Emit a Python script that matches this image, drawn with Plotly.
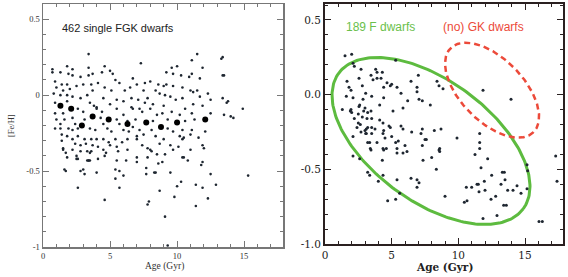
import numpy as np
import plotly.graph_objects as go

# ---------------- data ----------------
left_x = [0.7,0.7,1.8,2.2,1.3,2.2,1.9,3.4,3.4,3.4,4.4,4.6,3.7,5.0,5.2,2.8,5.4,1.0,0.9,1.4,1.8,1.5,1.3,1.8,2.0,2.5,3.0,2.2,2.8,3.3,3.7,3.6,4.1,4.6,5.1,5.7,6.1,4.5,5.5,6.0,0.9,0.8,1.8,3.5,3.8,5.0,4.0,
          7.3,11.5,11.1,11.9,9.6,10.0,9.2,9.7,11.1,10.9,10.3,11.7,6.7,7.0,7.6,8.0,8.6,9.0,9.2,9.7,10.4,11.0,11.2,11.5,12.3,6.5,7.5,8.4,8.7,9.1,9.5,6.6,7.1,7.8,9.9,10.4,11.7,12.5,7.6,8.2,9.0,11.2,11.9,7.2,6.6,
          13.4,13.4,13.4,13.7,13.8,14.9,13.5,14.0,14.2,15.3,13.3,13.5,
          0.9,1.5,2.6,3.0,4.0,4.4,5.5,6.0,1.0,1.3,1.6,2.2,2.4,3.1,4.3,4.5,5.5,5.7,6.3,0.9,1.3,1.9,2.2,2.6,3.5,3.9,4.8,5.1,6.0,6.4,1.4,1.8,2.2,2.6,3.1,3.6,4.0,4.5,4.9,5.4,5.9,6.3,2.4,2.8,3.2,3.7,4.1,5.0,5.5,1.5,2.2,2.8,3.3,3.5,4.5,4.7,5.6,6.3,1.8,2.5,3.4,3.5,4.1,5.5,1.6,2.8,3.1,5.4,5.7,
          1.4,1.5,1.7,1.7,2.6,2.6,2.5,3.0,3.3,3.4,3.6,4.0,4.6,4.6,5.4,5.7,6.0,6.2,7.0,7.0,7.7,7.7,7.8,7.9,8.3,8.6,8.9,8.7,9.1,9.5,9.8,10.0,10.3,10.5,10.8,11.4,11.4,11.8,11.9,12.0,12.3,12.5,12.9,9.3,
          6.7,7.4,8.0,8.5,8.9,9.6,10.2,10.6,11.1,12.5,6.9,8.2,9.3,10.6,11.3,6.7,7.2,8.1,9.3,9.7,10.4,11.1,11.0,12.1,7.0,7.5,8.4,9.0,10.2,10.5,10.4,11.6,7.0,7.4,8.7,9.5,10.1,11.9,7.8,8.0,8.1,8.5,9.7,9.1,11.0,7.8,10.4,11.9,8.4]
left_y = [0.17,0.15,0.19,0.17,0.15,0.13,0.14,0.27,0.18,0.13,0.15,0.19,0.14,0.16,0.14,0.12,0.10,0.05,0.09,0.07,0.07,0.03,0.00,0.00,0.04,0.06,0.07,-0.01,-0.02,0.00,0.03,0.07,0.08,0.05,0.03,0.08,0.03,-0.02,-0.03,-0.04,-0.05,0.01,-0.04,-0.05,-0.07,-0.06,-0.08,
          0.21,0.27,0.23,0.18,0.18,0.19,0.15,0.14,0.14,0.12,0.13,0.11,0.11,0.07,0.08,0.09,0.07,0.06,0.07,0.06,0.05,0.03,0.02,0.03,0.01,0.05,0.03,0.03,0.01,0.00,-0.01,-0.02,-0.03,-0.02,-0.03,-0.02,-0.01,-0.03,-0.05,-0.06,-0.07,-0.06,-0.07,-0.09,-0.08,
          0.25,0.13,-0.02,-0.05,-0.04,-0.09,-0.13,-0.14,-0.15,-0.53,0.24,0.13,
          -0.12,-0.12,-0.09,-0.11,-0.09,-0.11,-0.09,-0.13,-0.16,-0.19,-0.16,-0.15,-0.19,-0.16,-0.15,-0.19,-0.16,-0.19,-0.17,-0.22,-0.22,-0.22,-0.23,-0.22,-0.22,-0.23,-0.22,-0.24,-0.23,-0.24,-0.26,-0.27,-0.29,-0.27,-0.29,-0.29,-0.29,-0.29,-0.31,-0.29,-0.31,-0.29,-0.32,-0.33,-0.32,-0.33,-0.34,-0.33,-0.34,-0.36,-0.36,-0.37,-0.37,-0.38,-0.36,-0.38,-0.37,-0.36,-0.41,-0.42,-0.43,-0.43,-0.42,-0.43,-0.49,-0.50,-0.52,-0.49,-0.50,
          -0.30,-0.35,-0.38,-0.50,-0.61,-0.42,-0.40,-0.49,-0.43,-0.43,-0.37,-0.51,-0.69,-0.40,-0.55,-0.61,-0.53,-0.43,-0.41,-0.44,-0.52,-0.48,-0.72,-0.70,-0.51,-0.45,-0.44,-0.63,-0.80,-0.51,-0.67,-0.60,-0.57,-0.41,-0.43,-0.59,-0.73,-0.46,-0.61,-0.35,-0.68,-0.52,-0.59,-0.99,
          -0.09,-0.11,-0.09,-0.13,-0.12,-0.11,-0.13,-0.09,-0.12,-0.12,-0.16,-0.17,-0.16,-0.17,-0.16,-0.21,-0.23,-0.23,-0.22,-0.24,-0.23,-0.23,-0.26,-0.24,-0.27,-0.26,-0.27,-0.29,-0.27,-0.28,-0.29,-0.28,-0.29,-0.33,-0.32,-0.33,-0.34,-0.33,-0.35,-0.36,-0.37,-0.39,-0.36,-0.39,-0.36,-0.41,-0.41,-0.44,-0.51]

mean_x = [1.3, 2.1, 2.9, 3.7, 4.9, 6.3, 7.7, 8.8, 10.0, 12.1]
mean_y = [-0.07, -0.09, -0.20, -0.14, -0.16, -0.19, -0.18, -0.21, -0.18, -0.16]

right_x = [1.5,2.0,2.1,2.2,2.7,3.8,3.9,5.3,1.65,1.95,1.8,2.55,2.8,3.45,3.6,3.9,4.2,4.3,4.65,4.9,5.0,5.4,4.4,6.45,7.0,6.9,6.9,8.4,8.55,8.85,5.7,6.2,7.05,7.3,1.6,2.1,3.05,3.5,1.3,1.95,2.55,2.9,3.45,2.8,2.2,3.15,3.5,2.4,3.1,3.5,2.7,3.1,4.4,4.8,5.7,6.5,7.2,8.2,8.7,9.9,11.85,13.95,
           2.85,4.4,7.9,4.1,5.85,1.9,2.0,2.6,3.0,3.2,5.1,2.5,4.1,4.35,2.5,2.65,3.2,3.75,4.9,5.85,7.3,3.0,3.05,3.5,4.35,4.5,5.0,7.5,11.6,2.1,3.2,3.35,3.9,5.5,6.0,7.3,8.6,11.6,3.4,4.35,4.6,5.4,5.4,8.6,5.85,8.0,2.1,2.6,4.3,7.35,11.25,12.2,
           3.45,4.4,3.2,3.35,4.0,4.35,5.4,4.7,5.3,5.6,5.3,6.15,6.45,6.9,7.05,6.9,7.6,8.55,8.35,9.0,10.6,10.45,10.65,11.0,11.4,11.5,11.55,11.7,11.6,11.95,12.0,11.85,12.5,12.45,12.8,12.9,13.2,13.3,13.45,13.5,13.4,13.6,13.7,14.1,14.4,14.7,15.15,15.15,15.2,16.05,16.3,17.3,17.4]
right_y = [0.26,0.27,0.21,0.19,0.17,0.17,0.15,0.23,0.09,0.03,0.05,0.11,0.06,0.13,0.10,0.11,0.11,0.15,0.08,0.06,0.07,0.05,0.05,0.09,0.13,0.05,0.02,0.09,0.06,0.04,0.01,-0.04,-0.03,-0.04,-0.01,-0.02,0.01,-0.01,-0.10,-0.10,-0.08,-0.11,-0.11,-0.15,-0.16,-0.16,-0.16,-0.22,-0.23,-0.22,-0.25,-0.26,-0.24,-0.21,-0.21,-0.25,-0.26,-0.24,-0.23,-0.29,0.03,-0.03,
           -0.03,-0.02,-0.07,-0.07,-0.09,-0.11,-0.12,-0.07,-0.09,-0.12,-0.11,-0.13,-0.17,-0.19,-0.19,-0.20,-0.22,-0.23,-0.22,-0.23,-0.23,-0.24,-0.26,-0.26,-0.26,-0.29,-0.28,-0.30,-0.26,-0.28,-0.32,-0.32,-0.32,-0.31,-0.34,-0.34,-0.36,-0.36,-0.36,-0.36,-0.36,-0.36,-0.39,-0.38,-0.39,-0.42,-0.41,-0.43,-0.44,-0.44,-0.40,-0.43,
           -0.37,-0.37,-0.52,-0.54,-0.58,-0.54,-0.57,-0.71,-0.70,-0.66,-0.32,-0.38,-0.56,-0.57,-0.59,-0.62,-0.30,-0.37,-0.50,-0.68,-0.62,-0.72,-0.71,-0.62,-0.60,-0.60,-0.65,-0.49,-0.32,-0.58,-0.64,-0.83,-0.54,-0.70,-0.68,-0.81,-0.60,-0.52,-0.52,-0.57,-0.74,-0.74,-0.64,-0.64,-0.61,-0.66,-0.63,-0.47,-0.51,-0.85,-0.85,-0.41,-0.58]

# ellipse parameters: centre (data units), semi-axes (pixels), tilt (deg, screen)
green_ell = dict(cx=7.95, cy=-0.31, a=114.5, b=60.5, ang=36.3)
red_ell = dict(cx=12.53, cy=0.03, a=59.0, b=31.4, ang=45.5)

# ---------------- layout geometry ----------------
W, H = 568, 277
L_xr, L_yr = [0, 17.9], [-1, 0.6]
R_xr, R_yr = [0, 17.85], [-1, 0.607]
L_dom_x = [43 / W, 283 / W]
L_dom_y = [(H - 247) / H, (H - 4) / H]
R_dom_x = [325 / W, 563 / W]
R_dom_y = [(H - 244) / H, (H - 4) / H]

rx_px = (R_dom_x[1] - R_dom_x[0]) * W / (R_xr[1] - R_xr[0])
ry_px = (R_dom_y[1] - R_dom_y[0]) * H / (R_yr[1] - R_yr[0])


def ellipse(p):
    t = np.linspace(0, 2 * np.pi, 240)
    th = np.radians(p["ang"])
    dx = p["a"] * np.cos(th) * np.cos(t) - p["b"] * np.sin(th) * np.sin(t)
    dy = p["a"] * np.sin(th) * np.cos(t) + p["b"] * np.cos(th) * np.sin(t)
    return p["cx"] + dx / rx_px, p["cy"] - dy / ry_px


fig = go.Figure()
fig.add_trace(go.Scatter(x=left_x, y=left_y, mode="markers", xaxis="x", yaxis="y",
                         marker=dict(size=2.6, color="#1e2630"), hoverinfo="skip"))
fig.add_trace(go.Scatter(x=mean_x, y=mean_y, mode="markers", xaxis="x", yaxis="y",
                         marker=dict(size=6, color="#000000"), hoverinfo="skip"))
gx, gy = ellipse(green_ell)
fig.add_trace(go.Scatter(x=gx, y=gy, mode="lines", xaxis="x2", yaxis="y2",
                         line=dict(color="#5dbb3f", width=3), hoverinfo="skip"))
rxx, ryy = ellipse(red_ell)
fig.add_trace(go.Scatter(x=rxx, y=ryy, mode="lines", xaxis="x2", yaxis="y2",
                         line=dict(color="#ec4a3a", width=2.5, dash="6px,4px"), hoverinfo="skip"))
fig.add_trace(go.Scatter(x=right_x, y=right_y, mode="markers", xaxis="x2", yaxis="y2",
                         marker=dict(size=3, color="#1e2630"), hoverinfo="skip"))

lfont = dict(family="Liberation Serif", size=8.5, color="#333")
rfont = dict(family="DejaVu Serif", size=10.5, color="#222")


def axis(dom, rng, tv, tt, font, lc, lw, dtick, anchor):
    return dict(domain=dom, range=rng, tickvals=tv, ticktext=tt, tickfont=font,
                showgrid=False, zeroline=False, showline=True, linecolor=lc, linewidth=lw,
                mirror="ticks", ticks="inside", ticklen=6, tickwidth=1, tickcolor=lc,
                minor=dict(dtick=dtick, ticks="inside", ticklen=3, tickwidth=1, tickcolor=lc, tick0=0),
                anchor=anchor, automargin=False, fixedrange=True)


fig.update_layout(
    width=W, height=H, margin=dict(l=0, r=0, t=0, b=0, autoexpand=False),
    paper_bgcolor="white", plot_bgcolor="white", showlegend=False,
    xaxis=axis(L_dom_x, L_xr, [0, 5, 10, 15], ["0", "5", "10", "15"], lfont, "#777", 1.5, 1, "y"),
    yaxis=axis(L_dom_y, L_yr, [-1, -0.5, 0, 0.5], ["-1", "-0.5", "0", "0.5"], lfont, "#777", 1.5, 0.1, "x"),
    xaxis2=axis(R_dom_x, R_xr, [0, 5, 10, 15], ["0", "5", "10", "15"], rfont, "#2a2020", 2, 1, "y2"),
    yaxis2=axis(R_dom_y, R_yr, [-1, -0.5, 0, 0.5], ["-1.0", "-0.5", "0.0", "0.5"], rfont, "#2a2020", 2, 0.1, "x2"),
    annotations=[
        dict(text="462 single FGK dwarfs", x=60 / W, y=1 - 28 / H, xref="paper", yref="paper",
             xanchor="left", yanchor="middle", showarrow=False,
             font=dict(family="Liberation Sans", size=11, color="#222")),
        dict(text="[Fe/H]", x=11 / W, y=1 - 126 / H, xref="paper", yref="paper", textangle=-90,
             xanchor="center", yanchor="middle", showarrow=False, font=lfont),
        dict(text="Age (Gyr)", x=164 / W, y=1 - 266 / H, xref="paper", yref="paper",
             xanchor="center", yanchor="middle", showarrow=False,
             font=dict(family="Liberation Serif", size=9.5, color="#333")),
        dict(text="189 F dwarfs", x=344 / W, y=1 - 27 / H, xref="paper", yref="paper",
             xanchor="left", yanchor="middle", showarrow=False,
             font=dict(family="Liberation Sans", size=12, color="#6abf4b")),
        dict(text="(no) GK dwarfs", x=441 / W, y=1 - 27 / H, xref="paper", yref="paper",
             xanchor="left", yanchor="middle", showarrow=False,
             font=dict(family="Liberation Sans", size=12, color="#ec4a3a")),
        dict(text="<b>Age (Gyr)</b>", x=444 / W, y=1 - 267 / H, xref="paper", yref="paper",
             xanchor="center", yanchor="middle", showarrow=False,
             font=dict(family="DejaVu Serif", size=10.5, color="#222")),
    ],
)

fig.write_html("out.html", config={"displayModeBar": False, "staticPlot": True},
               post_script="document.body.style.margin='0';document.body.style.overflow='hidden';")
